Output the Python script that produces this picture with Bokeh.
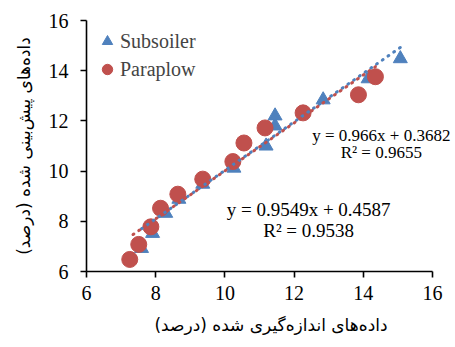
from bokeh.plotting import figure
from bokeh.models import Range1d, Legend, LegendItem, FixedTicker, Label
from bokeh.embed import file_html
from bokeh.resources import INLINE

# Measured vs. predicted values (percent) for the two tillage implements
subsoiler_measured = [7.59, 7.91, 8.29, 8.67, 9.36, 10.26, 11.19, 11.45, 11.45, 12.84, 14.14, 15.07]
subsoiler_predicted = [6.92, 7.52, 8.32, 8.88, 9.48, 10.12, 11.0, 11.8, 12.2, 12.84, 13.68, 14.48]
paraplow_measured = [7.25, 7.51, 7.86, 8.14, 8.64, 9.36, 10.23, 10.55, 11.16, 12.26, 13.86, 14.35]
paraplow_predicted = [6.48, 7.08, 7.78, 8.52, 9.08, 9.68, 10.38, 11.12, 11.72, 12.32, 13.04, 13.76]

# Linear trendlines: slope, intercept, R²
subsoiler_slope, subsoiler_intercept, subsoiler_r2 = 0.966, 0.3682, 0.9655
paraplow_slope, paraplow_intercept, paraplow_r2 = 0.9549, 0.4587, 0.9538

axis_ticks = [6, 8, 10, 12, 14, 16]
x_title = "داده\u200cهای اندازه\u200cگیری شده (درصد)\u200f"
y_title = "داده\u200cهای پیش\u200cبینی شده (درصد)\u200f"

BLUE = "#4F81BD"
RED = "#C0504D"
SERIF = "Liberation Serif"

# x range runs a little past 16 so the equation text near the right edge has room;
# the axis itself is bounded to 6..16
X_END = 16 + 23 / 34.6

p = figure(width=455, height=347, x_range=Range1d(6, X_END), y_range=Range1d(6, 16),
           output_backend="svg", toolbar_location=None,
           min_border_left=86, min_border_right=0, min_border_top=20, min_border_bottom=76)
p.grid.visible = False
p.outline_line_color = None
p.background_fill_color = "white"
p.border_fill_color = "white"

p.xaxis.ticker = FixedTicker(ticks=axis_ticks)
p.yaxis.ticker = FixedTicker(ticks=axis_ticks)
p.axis.bounds = (6, 16)
p.axis.axis_line_color = "black"
p.axis.axis_line_width = 1.6
p.axis.major_tick_line_color = "black"
p.axis.major_tick_line_width = 1.6
p.axis.major_tick_in = 0
p.axis.major_tick_out = 6
p.axis.minor_tick_line_color = None
p.axis.major_label_text_font = SERIF
p.axis.major_label_text_font_size = "20px"
p.axis.major_label_text_color = "black"
p.axis.axis_label_text_font = "DejaVu Sans"
p.axis.axis_label_text_font_size = "17px"
p.axis.axis_label_text_font_style = "normal"
p.axis.axis_label_text_color = "black"

p.xaxis.axis_label = x_title
p.xaxis.major_label_standoff = 8
p.xaxis.axis_label_standoff = 12
p.yaxis.axis_label = y_title
p.yaxis.major_label_standoff = 12
p.yaxis.axis_label_standoff = 12

# Markers
tri = p.scatter(subsoiler_measured, subsoiler_predicted, marker="triangle", size=14,
                fill_color=BLUE, line_color=BLUE)
circ = p.scatter(paraplow_measured, paraplow_predicted, marker="circle", size=16,
                 fill_color=RED, line_color=RED)

# Dotted trendlines over each series' measured range
def trend(xs, slope, intercept):
    x0, x1 = min(xs), max(xs)
    return [x0, x1], [slope * x0 + intercept, slope * x1 + intercept]

sx, sy = trend(subsoiler_measured, subsoiler_slope, subsoiler_intercept)
p.line(sx, sy, line_color=BLUE, line_width=3, line_dash="1 6", line_cap="round")
px_, py_ = trend(paraplow_measured, paraplow_slope, paraplow_intercept)
p.line(px_, py_, line_color=RED, line_width=3, line_dash="1 6", line_cap="round", line_dash_offset=3)

# Equation labels
def eq_labels(xc, y1, y2, slope, intercept, r2, size):
    common = dict(text_font=SERIF, text_font_size=size, text_color="black",
                  text_align="center", text_baseline="middle")
    p.add_layout(Label(x=xc, y=y1, text=f"y = {slope}x + {intercept}", **common))
    p.add_layout(Label(x=xc, y=y2, text=f"R² = {r2}", **common))

eq_labels(14.52, 11.42, 10.74, subsoiler_slope, subsoiler_intercept, subsoiler_r2, "17px")
eq_labels(12.42, 8.47, 7.63, paraplow_slope, paraplow_intercept, paraplow_r2, "19px")

legend = Legend(items=[LegendItem(label="Subsoiler", renderers=[tri]),
                       LegendItem(label="Paraplow", renderers=[circ])],
                location="top_left",
                label_text_font=SERIF, label_text_font_size="20px")
legend.border_line_color = None
legend.background_fill_alpha = 0
legend.glyph_width = 26
legend.glyph_height = 26
legend.label_height = 26
legend.spacing = 2
legend.margin = 8
legend.padding = 8
legend.label_standoff = 0
p.add_layout(legend)

open("out.html", "w").write(file_html(p, INLINE))
